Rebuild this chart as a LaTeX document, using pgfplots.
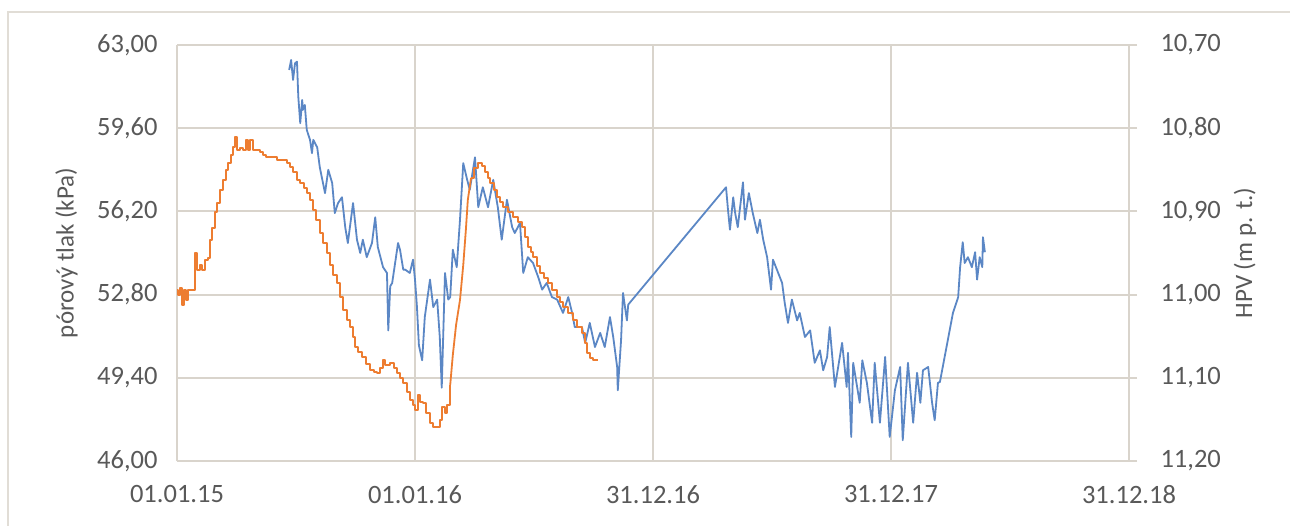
\documentclass[border=0pt]{standalone}
\usepackage{fontspec}
\setmainfont{Carlito}
\usepackage{pgfplots}
\pgfplotsset{compat=1.18}
\definecolor{gridc}{HTML}{D9D4CC}
\definecolor{txt}{HTML}{595959}
\definecolor{blu}{HTML}{5B87C5}
\definecolor{ora}{HTML}{ED7D31}
\newcommand{\lblfont}{\fontsize{25}{30}\selectfont}
\newcommand{\tickfont}{\fontsize{26.5}{31}\selectfont}
\begin{document}
\begin{tikzpicture}[x=1pt,y=1pt]
\useasboundingbox (0,0) rectangle (1290,525);
\fill[white] (0,0) rectangle (1290,525);
\draw[gridc!80!white, line width=1.5pt] (8,-5) -- (8,513) -- (1295,513);
% ---- right axis (HPV), drawn first, carries the grid
\begin{axis}[
  at={(177pt,64pt)}, anchor=south west,
  scale only axis, width=952pt, height=416pt,
  xmin=0, xmax=1460, ymin=10.70, ymax=11.20, y dir=reverse,
  axis y line*=right, axis x line*=bottom,
  axis line style={gridc, line width=2pt, -},
  xtick={0,365,730,1095,1460}, xticklabels={},
  xtick style={draw=none},
  ytick={10.7,10.8,10.9,11.0,11.1,11.2},
  tick align=outside, major tick length=8pt,
  ytick style={gridc, line width=2pt},
  grid=major, major grid style={gridc, line width=2pt},
  /pgf/number format/fixed, /pgf/number format/fixed zerofill,
  /pgf/number format/precision=2, /pgf/number format/use comma,
  /pgf/number format/assume math mode=true,
  tick label style={font=\tickfont, text=txt},
  yticklabel style={xshift=20pt},
  ylabel={HPV (m p. t.)},
  ylabel style={font=\lblfont, text=txt, at={(axis description cs:1.1218,0.5)}, anchor=center},
]
\addplot[blu, line width=1.8pt, line join=round] coordinates {
(172,10.730) (175,10.718) (178,10.742) (181,10.722) (184,10.720) (186,10.762)
(189,10.794) (192,10.766) (193,10.778) (196,10.772) (199,10.802) (204,10.814)
(207,10.830) (209,10.814) (215,10.823) (219,10.847) (227,10.878) (232,10.850)
(238,10.866) (242,10.902) (247,10.890) (253,10.883) (258,10.919) (262,10.938)
(270,10.890) (276,10.934) (281,10.950) (285,10.934) (291,10.955) (299,10.938)
(304,10.907) (308,10.943) (316,10.967) (322,10.974) (324,11.043) (327,10.990)
(330,10.986) (339,10.938) (342,10.946) (347,10.970) (350,10.970) (357,10.974)
(362,10.958) (365,10.982) (368,11.015) (371,11.061) (376,11.079) (380,11.027)
(388,10.982) (393,11.015) (399,11.006) (403,11.051) (406,11.112) (411,10.974)
(416,11.006) (419,11.003) (423,10.946) (429,10.967) (434,10.910) (439,10.842)
(445,10.862) (449,10.874) (457,10.835) (462,10.895) (469,10.871) (477,10.895)
(485,10.862) (492,10.895) (498,10.934) (506,10.886) (514,10.919) (518,10.926)
(526,10.914) (531,10.974) (538,10.955) (546,10.962) (554,10.979) (560,10.994)
(567,10.986) (575,11.003) (583,11.006) (592,11.022) (600,11.003) (606,11.022)
(610,11.039) (621,11.039) (626,11.058) (633,11.034) (641,11.063) (649,11.046)
(656,11.063) (664,11.027) (669,11.051) (675,11.087) (676,11.115) (681,11.055)
(684,10.998) (690,11.031) (692,11.012)
(842,10.871) (845,10.898) (848,10.922) (853,10.883) (856,10.902) (860,10.919)
(868,10.865) (871,10.910) (877,10.878) (883,10.902) (890,10.926) (894,10.910)
(899,10.934) (905,10.955) (911,10.994) (914,10.958) (922,10.974) (928,10.986)
(932,11.010) (937,11.034) (943,11.006) (951,11.031) (955,11.022) (963,11.051)
(971,11.043) (978,11.082) (986,11.067) (991,11.091) (997,11.075) (1001,11.039)
(1009,11.111) (1020,11.058) (1027,11.111) (1029,11.070) (1034,11.171) (1037,11.082)
(1047,11.130) (1051,11.079) (1058,11.106) (1066,11.154) (1070,11.082) (1078,11.154)
(1086,11.075) (1093,11.171) (1101,11.115) (1109,11.087) (1113,11.175) (1121,11.082)
(1129,11.154) (1135,11.094) (1140,11.130) (1144,11.091) (1152,11.087) (1158,11.130)
(1162,11.151) (1167,11.106) (1170,11.105) (1190,11.022) (1193,11.015) (1198,11.003)
(1201,10.967) (1205,10.937) (1208,10.962) (1213,10.955) (1219,10.967) (1224,10.949)
(1227,10.982) (1231,10.955) (1235,10.967) (1236,10.931) (1239,10.949)
};
\end{axis}
% ---- left axis (pórový tlak)
\begin{axis}[
  at={(177pt,64pt)}, anchor=south west,
  scale only axis, width=952pt, height=416pt,
  xmin=0, xmax=1460, ymin=46, ymax=63,
  axis x line*=bottom, axis y line*=left,
  axis line style={gridc, line width=2pt, -},
  xtick={0,365,730,1095,1460},
  xticklabels={01.01.15,01.01.16,31.12.16,31.12.17,31.12.18},
  ytick={46,49.4,52.8,56.2,59.6,63},
  xtick style={draw=none}, ytick style={draw=none},
  /pgf/number format/fixed, /pgf/number format/fixed zerofill,
  /pgf/number format/precision=2, /pgf/number format/use comma,
  /pgf/number format/assume math mode=true,
  tick label style={font=\tickfont, text=txt},
  yticklabel style={xshift=-16pt},
  xticklabel style={yshift=-21pt},
  ylabel={pórový tlak (kPa)},
  ylabel style={font=\lblfont, text=txt, at={(axis description cs:-0.116,0.5)}, anchor=center},
]
\addplot[ora, line width=1.8pt, line join=round, const plot] coordinates {
(0,52.99) (2,52.78) (5,53.07) (8,52.38) (11,52.99) (14,52.58) (17,52.99) (20,52.99)
(25,52.99) (28,54.50) (31,53.81) (35,54.01) (38,53.81) (43,54.21) (48,54.30) (51,55.03)
(54,55.52) (58,56.18) (61,56.54) (66,57.07) (71,57.48) (75,57.89) (78,58.18) (83,58.50)
(86,58.83) (89,59.24) (92,58.71) (97,58.79) (101,58.71) (106,59.12) (109,58.71) (112,59.12)
(117,58.71) (121,58.71) (127,58.63) (132,58.50) (136,58.42) (143,58.42) (149,58.42)
(153,58.30) (158,58.30) (164,58.30) (169,58.18) (173,58.01) (178,57.81) (184,57.48)
(189,57.36) (195,57.16) (199,56.95) (204,56.67) (209,56.26) (213,55.85) (219,55.32)
(224,54.91) (230,54.50) (235,54.01) (239,53.60) (245,53.27) (250,52.70) (255,52.17)
(261,51.76) (265,51.48) (270,51.07) (273,50.66) (278,50.45) (284,50.25) (290,49.96)
(296,49.72) (302,49.64) (307,49.60) (311,49.80) (316,50.13) (319,49.92) (327,50.00)
(333,49.80) (337,49.60) (342,49.39) (347,49.19) (353,48.82) (357,48.49) (362,48.29)
(365,48.08) (370,48.70) (373,48.41) (377,48.37) (382,47.96) (388,47.55) (393,47.39)
(399,47.39) (403,47.68) (406,48.21) (411,47.96) (414,48.29) (419,49.11)
};
\addplot[ora, line width=1.8pt, line join=round] coordinates {
(419,49.11) (423,50.33)
(428,51.56) (434,52.58) (439,54.01) (443,55.44) (446,56.67) (451,57.57)
};
\addplot[ora, line width=1.8pt, line join=round, const plot] coordinates {
(451,57.57) (455,57.97)
(462,58.18) (468,58.06) (472,57.81) (477,57.57) (480,57.36) (486,57.07) (491,56.79)
(495,56.58) (500,56.38) (508,56.18) (515,55.97) (523,55.77) (529,55.56) (534,55.15)
(538,54.75) (543,54.54) (546,54.34) (552,53.97) (557,53.68) (563,53.48) (569,53.27)
(575,52.99) (583,52.70) (587,52.50) (592,52.29) (600,52.05) (607,51.76) (613,51.48)
(621,51.23) (626,50.82) (629,50.41) (633,50.21) (638,50.13) (646,50.13)
};
\end{axis}
\end{tikzpicture}
\end{document}
